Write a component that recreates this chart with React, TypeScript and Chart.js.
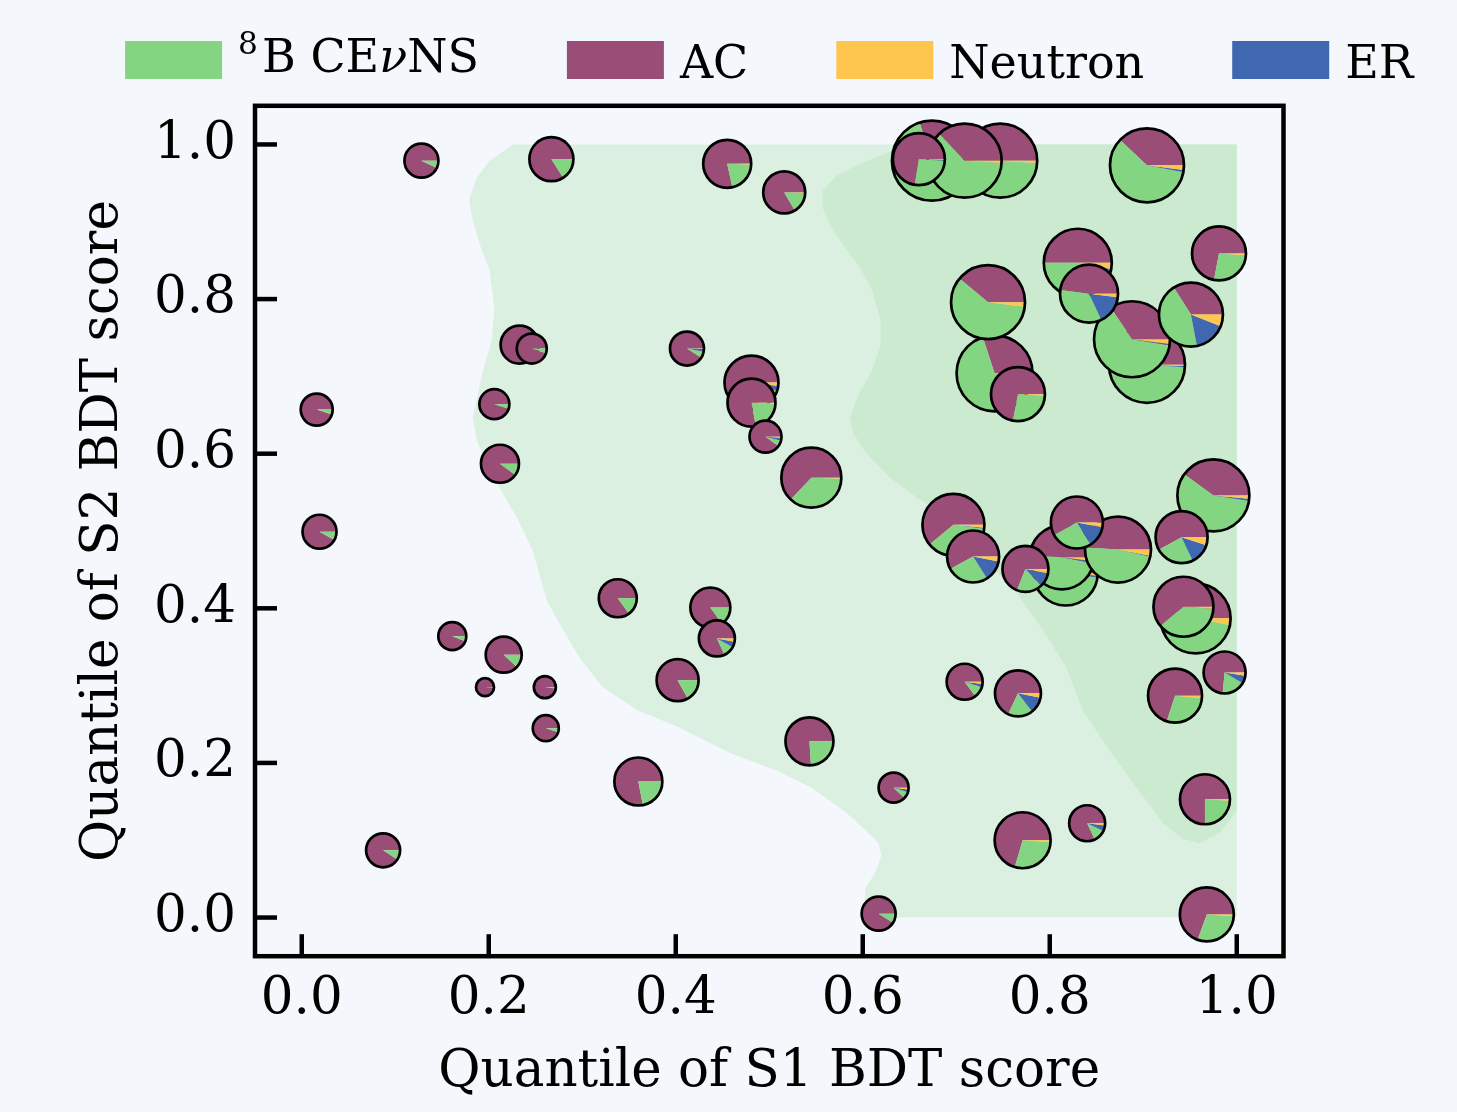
import React, { useEffect, useRef } from "react";
import { Chart, registerables } from "chart.js";

Chart.register(...registerables);

const FONT_FAMILY = "'DejaVu Serif', serif";
const FONT_SIZE = 51.5;
const LEGEND_FONT_SIZE = 46;

// Legend / categories
const legendLabels = ["⁸B CEνNS", "AC", "Neutron", "ER"];
const legendColors = ["#84d582", "#9a4d76", "#ffc64f", "#4068b0"];

// Axis ticks
const xTickValues = [0, 0.2, 0.4, 0.6, 0.8, 1.0];
const yTickValues = [0, 0.2, 0.4, 0.6, 0.8, 1.0];
const xAxisTitle = "Quantile of S1 BDT score";
const yAxisTitle = "Quantile of S2 BDT score";

// Pie positions (data units), bubble radius and composition
const pieX = [0.128, 0.016, 0.019, 0.161, 0.216, 0.196, 0.260, 0.261, 0.087, 0.267, 0.233, 0.246, 0.206, 0.212, 0.338, 0.360, 0.402, 0.437, 0.444, 0.455, 0.516, 0.412, 0.481, 0.481, 0.496, 0.545, 0.543, 0.633, 0.617, 0.674, 0.747, 0.709, 0.660, 0.904, 0.741, 0.734, 0.766, 0.904, 0.888, 0.830, 0.842, 0.981, 0.951, 0.975, 0.697, 0.718, 0.817, 0.813, 0.873, 0.829, 0.774, 0.941, 0.956, 0.943, 0.987, 0.709, 0.766, 0.934, 0.966, 0.840, 0.771, 0.968];
const pieY = [0.979, 0.657, 0.499, 0.364, 0.340, 0.298, 0.298, 0.245, 0.087, 0.981, 0.741, 0.736, 0.664, 0.587, 0.413, 0.176, 0.307, 0.401, 0.361, 0.975, 0.938, 0.736, 0.692, 0.666, 0.622, 0.569, 0.228, 0.168, 0.005, 0.979, 0.979, 0.979, 0.981, 0.973, 0.704, 0.796, 0.677, 0.715, 0.748, 0.847, 0.807, 0.859, 0.780, 0.546, 0.508, 0.467, 0.445, 0.466, 0.476, 0.511, 0.451, 0.492, 0.387, 0.402, 0.317, 0.305, 0.290, 0.287, 0.153, 0.122, 0.100, 0.004];
const pieRadius = [17, 16, 17, 14, 18, 9, 11, 13, 17, 22, 19, 15, 15, 19, 19, 24, 21, 20, 18, 24, 21, 17, 27, 24, 16, 30, 24, 15, 17, 40, 37, 37, 26, 37, 38, 37, 27, 38, 38, 34, 29, 27, 32, 36, 31, 26, 32, 32, 33, 26, 23, 26, 35, 30, 21, 18, 23, 27, 25, 18, 28, 27];
const fracAC = [0.93, 0.95, 0.92, 0.94, 0.88, 0.99, 0.98, 0.95, 0.91, 0.84, 0.97, 0.95, 0.95, 0.90, 0.85, 0.78, 0.83, 0.85, 0.82, 0.785, 0.835, 0.91, 0.80, 0.78, 0.90, 0.63, 0.76, 0.88, 0.91, 0.30, 0.50, 0.37, 0.725, 0.38, 0.30, 0.39, 0.72, 0.42, 0.345, 0.50, 0.48, 0.72, 0.34, 0.40, 0.61, 0.58, 0.45, 0.49, 0.49, 0.58, 0.69, 0.58, 0.45, 0.61, 0.735, 0.85, 0.68, 0.70, 0.75, 0.82, 0.705, 0.695];
const fracCEvNS = [0.07, 0.05, 0.08, 0.06, 0.12, 0.01, 0.02, 0.05, 0.09, 0.16, 0.03, 0.05, 0.05, 0.10, 0.15, 0.22, 0.17, 0.15, 0.10, 0.21, 0.16, 0.06, 0.15, 0.21, 0.06, 0.365, 0.24, 0.07, 0.09, 0.69, 0.49, 0.62, 0.265, 0.59, 0.69, 0.59, 0.27, 0.57, 0.63, 0.46, 0.34, 0.27, 0.44, 0.575, 0.37, 0.26, 0.53, 0.48, 0.475, 0.26, 0.18, 0.24, 0.52, 0.38, 0.18, 0.10, 0.175, 0.285, 0.24, 0.11, 0.285, 0.295];
const fracER = [0, 0, 0, 0, 0, 0, 0, 0, 0, 0, 0, 0, 0, 0, 0, 0, 0, 0, 0.05, 0, 0, 0.025, 0.03, 0, 0.03, 0, 0, 0.03, 0, 0, 0, 0, 0.005, 0.01, 0, 0, 0, 0.005, 0.005, 0.01, 0.16, 0, 0.16, 0.01, 0.005, 0.13, 0.01, 0.01, 0.005, 0.13, 0.10, 0.13, 0, 0, 0.06, 0.03, 0.115, 0, 0, 0.05, 0, 0];
const fracNeutron = [0, 0, 0, 0, 0, 0, 0, 0, 0, 0, 0, 0, 0, 0, 0, 0, 0, 0, 0.03, 0.005, 0.005, 0.005, 0.02, 0.01, 0.01, 0.005, 0, 0.02, 0, 0.01, 0.01, 0.01, 0.005, 0.02, 0.01, 0.02, 0.01, 0.005, 0.02, 0.03, 0.02, 0.01, 0.06, 0.015, 0.015, 0.03, 0.01, 0.02, 0.03, 0.03, 0.03, 0.05, 0.03, 0.01, 0.025, 0.02, 0.03, 0.015, 0.01, 0.02, 0.01, 0.01];

// Background density regions (data units)
const outerRegionX = [0.226, 0.201, 0.187, 0.179, 0.182, 0.190, 0.201, 0.206, 0.203, 0.193, 0.183, 0.187, 0.209, 0.230, 0.247, 0.262, 0.274, 0.297, 0.322, 0.359, 0.403, 0.460, 0.508, 0.545, 0.580, 0.603, 0.617, 0.620, 0.613, 0.603, 0.602, 0.603, 1.0, 1.0];
const outerRegionY = [1.0, 0.979, 0.957, 0.928, 0.906, 0.872, 0.837, 0.789, 0.746, 0.704, 0.647, 0.617, 0.561, 0.517, 0.475, 0.410, 0.384, 0.336, 0.298, 0.268, 0.246, 0.212, 0.190, 0.168, 0.138, 0.113, 0.096, 0.080, 0.057, 0.039, 0.022, 0.0, 0.0, 1.0];
const innerRegionX = [0.668, 0.632, 0.597, 0.572, 0.557, 0.557, 0.568, 0.583, 0.597, 0.610, 0.619, 0.619, 0.610, 0.595, 0.586, 0.590, 0.604, 0.629, 0.658, 0.693, 0.722, 0.739, 0.765, 0.793, 0.818, 0.835, 0.864, 0.893, 0.921, 0.942, 0.960, 0.982, 1.0, 1.0];
const innerRegionY = [1.0, 0.992, 0.975, 0.960, 0.940, 0.918, 0.889, 0.863, 0.841, 0.811, 0.772, 0.740, 0.708, 0.675, 0.647, 0.626, 0.600, 0.569, 0.543, 0.517, 0.488, 0.453, 0.419, 0.371, 0.323, 0.268, 0.216, 0.168, 0.122, 0.102, 0.096, 0.110, 0.138, 1.0];

const BG = "#f4f7fc";
const OUTER_FILL = "#dcf0e2";
const INNER_FILL = "#cbeacf";
const W = 1457;
const H = 1112;

function font(size: number, italic = false) {
  return `${italic ? "italic " : ""}${size}px ${FONT_FAMILY}`;
}

// split a legend label into styled parts (superscript digit, italic nu)
function labelParts(label: string) {
  const parts: { t: string; sup?: boolean; it?: boolean }[] = [];
  const supMap: Record<string, string> = { "⁰": "0", "¹": "1", "²": "2", "³": "3", "⁴": "4", "⁵": "5", "⁶": "6", "⁷": "7", "⁸": "8", "⁹": "9" };
  let buf = "";
  for (const ch of label) {
    if (supMap[ch]) {
      if (buf) parts.push({ t: buf });
      buf = "";
      parts.push({ t: supMap[ch], sup: true });
    } else if (ch === "ν") {
      if (buf) parts.push({ t: buf });
      buf = "";
      parts.push({ t: ch, it: true });
    } else buf += ch;
  }
  if (buf) parts.push({ t: buf });
  return parts;
}

function measureLabel(ctx: CanvasRenderingContext2D, label: string) {
  let w = 0;
  for (const p of labelParts(label)) {
    ctx.font = p.sup ? font(LEGEND_FONT_SIZE * 0.68) : font(LEGEND_FONT_SIZE, !!p.it);
    w += ctx.measureText(p.t).width + (p.sup ? 4 : 0);
  }
  return w;
}

function drawLabel(ctx: CanvasRenderingContext2D, label: string, x: number, baseline: number) {
  const parts = labelParts(label);
  const hasSup = parts.some((p) => p.sup);
  const base = hasSup ? baseline - 6 : baseline;
  let cx = x;
  ctx.fillStyle = "#000";
  ctx.textBaseline = "alphabetic";
  ctx.textAlign = "left";
  for (const p of parts) {
    ctx.font = p.sup ? font(LEGEND_FONT_SIZE * 0.68) : font(LEGEND_FONT_SIZE, !!p.it);
    ctx.fillText(p.t, cx, p.sup ? base - 18 : base);
    cx += ctx.measureText(p.t).width + (p.sup ? 4 : 0);
  }
}

const backgroundPlugin = {
  id: "bgFill",
  beforeDraw(chart: any) {
    const ctx = chart.ctx;
    ctx.save();
    ctx.fillStyle = BG;
    ctx.fillRect(0, 0, chart.width, chart.height);
    ctx.restore();
  },
};

const piePlugin = {
  id: "pies",
  afterDatasetsDraw(chart: any) {
    const idx = chart.data.datasets.findIndex((d: any) => d.label === "pies");
    const meta = chart.getDatasetMeta(idx);
    const ctx: CanvasRenderingContext2D = chart.ctx;
    const cols = [legendColors[1], legendColors[0], legendColors[3], legendColors[2]];
    ctx.save();
    meta.data.forEach((el: any, i: number) => {
      const { x, y } = el.getProps(["x", "y"], true);
      const r = pieRadius[i];
      const fr = [fracAC[i], fracCEvNS[i], fracER[i], fracNeutron[i]];
      const total = fr.reduce((a, b) => a + b, 0);
      let a = 0;
      fr.forEach((f, k) => {
        if (f <= 0) return;
        const a1 = a + (f / total) * Math.PI * 2;
        ctx.beginPath();
        ctx.moveTo(x, y);
        ctx.arc(x, y, r, -a, -a1, true);
        ctx.closePath();
        ctx.fillStyle = cols[k];
        ctx.fill();
        a = a1;
      });
      ctx.beginPath();
      ctx.arc(x, y, r, 0, Math.PI * 2);
      ctx.lineWidth = 2.7;
      ctx.strokeStyle = "#000";
      ctx.stroke();
    });
    ctx.restore();
  },
};

const framePlugin = {
  id: "frameAndLegend",
  afterDraw(chart: any) {
    const ctx: CanvasRenderingContext2D = chart.ctx;
    const { left, right, top, bottom } = chart.chartArea;
    const xs = chart.scales.x;
    const ys = chart.scales.y;
    ctx.save();
    ctx.strokeStyle = "#000";
    ctx.lineWidth = 4.5;
    ctx.lineCap = "butt";
    xTickValues.forEach((v) => {
      const px = xs.getPixelForValue(v);
      ctx.beginPath();
      ctx.moveTo(px, bottom);
      ctx.lineTo(px, bottom - 22);
      ctx.stroke();
    });
    yTickValues.forEach((v) => {
      const py = ys.getPixelForValue(v);
      ctx.beginPath();
      ctx.moveTo(left, py);
      ctx.lineTo(left + 22, py);
      ctx.stroke();
    });
    ctx.lineJoin = "miter";
    ctx.strokeRect(left, top, right - left, bottom - top);

    // legend
    const boxW = 97;
    const boxH = 38;
    const boxTop = 41;
    const textGap = 16;
    const colGap = 88;
    const widths = legendLabels.map((l) => measureLabel(ctx, l));
    const total = widths.reduce((a, w) => a + boxW + textGap + w, 0) + colGap * (legendLabels.length - 1);
    let x = (left + right) / 2 - total / 2;
    legendLabels.forEach((l, i) => {
      ctx.fillStyle = legendColors[i];
      ctx.fillRect(x, boxTop, boxW, boxH);
      drawLabel(ctx, l, x + boxW + textGap, 78);
      x += boxW + textGap + widths[i] + colGap;
    });
    ctx.restore();
  },
};

export default function App() {
  const ref = useRef<HTMLCanvasElement>(null);
  useEffect(() => {
    if (!ref.current) return;
    const tickFont = { family: FONT_FAMILY, size: FONT_SIZE };
    const chart = new Chart(ref.current, {
      type: "scatter",
      data: {
        datasets: [
          {
            type: "bubble",
            label: "pies",
            data: pieX.map((x, i) => ({ x, y: pieY[i], r: pieRadius[i] })),
            backgroundColor: "rgba(0,0,0,0)",
            borderColor: "rgba(0,0,0,0)",
            borderWidth: 0,
            clip: false,
          } as any,
          {
            label: "inner",
            data: innerRegionX.map((x, i) => ({ x, y: innerRegionY[i] })),
            showLine: true,
            fill: "shape",
            backgroundColor: INNER_FILL,
            borderColor: "rgba(0,0,0,0)",
            borderWidth: 0,
            pointRadius: 0,
            tension: 0,
          } as any,
          {
            label: "outer",
            data: outerRegionX.map((x, i) => ({ x, y: outerRegionY[i] })),
            showLine: true,
            fill: "shape",
            backgroundColor: OUTER_FILL,
            borderColor: "rgba(0,0,0,0)",
            borderWidth: 0,
            pointRadius: 0,
            tension: 0,
          } as any,
        ],
      },
      options: {
        responsive: false,
        animation: false,
        events: [],
        devicePixelRatio: 1,
        layout: { padding: { left: 0, right: W - 1283.5, top: 105.8, bottom: 0 } },
        plugins: { legend: { display: false }, tooltip: { enabled: false } },
        scales: {
          x: {
            type: "linear",
            min: -0.05,
            max: 1.05,
            afterBuildTicks: (s: any) => {
              s.ticks = xTickValues.map((v) => ({ value: v }));
            },
            afterFit: (s: any) => {
              s.height = H - 956.2;
            },
            grid: { display: false, drawTicks: false },
            border: { display: false },
            ticks: {
              font: tickFont,
              color: "#000",
              padding: 13,
              maxRotation: 0,
              autoSkip: false,
              callback: (v: any) => Number(v).toFixed(1),
            },
            title: {
              display: true,
              text: xAxisTitle,
              color: "#000",
              font: tickFont,
              padding: { top: 0, bottom: 8 },
            },
          },
          y: {
            type: "linear",
            min: -0.05,
            max: 1.05,
            afterBuildTicks: (s: any) => {
              s.ticks = yTickValues.map((v) => ({ value: v }));
            },
            afterFit: (s: any) => {
              s.width = 255;
            },
            grid: { display: false, drawTicks: false },
            border: { display: false },
            ticks: {
              font: tickFont,
              color: "#000",
              padding: 19,
              autoSkip: false,
              callback: (v: any) => Number(v).toFixed(1),
            },
            title: {
              display: true,
              text: yAxisTitle,
              color: "#000",
              font: tickFont,
              padding: { top: 73, bottom: 0 },
            },
          },
        },
      } as any,
      plugins: [backgroundPlugin, piePlugin, framePlugin],
    });
    return () => chart.destroy();
  }, []);
  return (
    <div style={{ position: "fixed", left: 0, top: 0, width: W, height: H, background: BG }}>
      <canvas ref={ref} width={W} height={H} style={{ display: "block", width: W, height: H }} />
    </div>
  );
}
